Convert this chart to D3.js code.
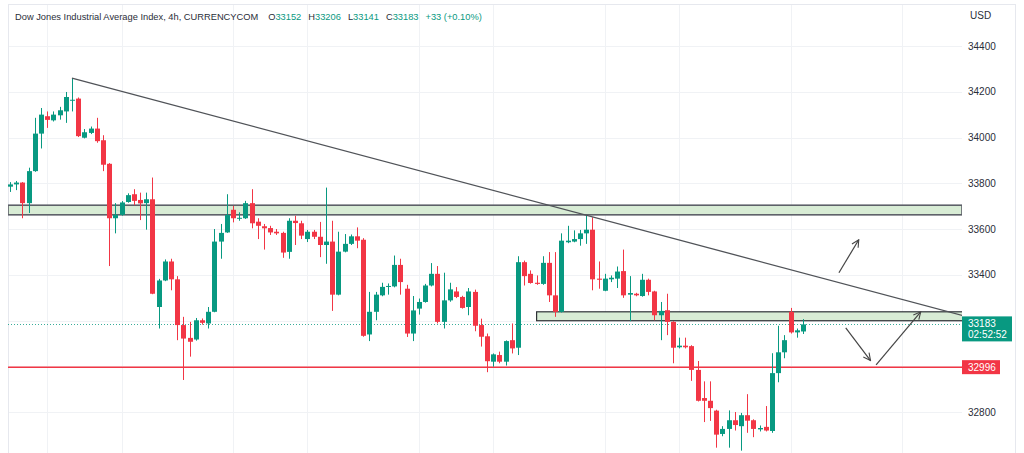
<!DOCTYPE html>
<html>
<head>
<meta charset="utf-8">
<script src="https://cdn.jsdelivr.net/npm/d3@7"></script>
<style>
  body { margin: 0; background: #fff; }
  svg { display: block; font-family: "Liberation Sans", Arial, sans-serif; }
</style>
</head>
<body>
<div id="chart-container"></div>
<script>
// 4h candles (oldest first)
const opens = [33785,33795,33803,33713,33853,34017,34093,34075,34097,34114,34161,34170,33999,34020,34039,33988,33885,33647,33662,33718,
  33752,33727,33713,33730,33259,33375,33458,33380,33180,33124,33117,33201,33187,33238,33545,33585,33684,33646,33647,33713,
  33632,33612,33604,33588,33583,33500,33636,33625,33556,33588,33566,33530,33545,33313,33501,33535,33568,33553,33139,33238,
  33310,33347,33349,33443,33339,33143,33252,33281,33353,33404,33194,33288,33327,33303,33259,33325,33180,33131,33020,33049,
  33020,33114,33081,33455,33404,33365,33360,33452,33310,33238,33542,33545,33556,33581,33597,33383,33330,33380,33383,33416,
  33313,33317,33307,33378,33327,33223,33245,33194,33083,33090,33088,32984,32861,32849,32806,32704,32726,32764,32738,32786,
  32764,32724,32735,32717,32970,33061,33238,33148,33152];
const highs = [33805,33810,33805,33868,34086,34129,34114,34114,34134,34199,34260,34175,34037,34048,34086,34010,33888,33713,33722,33756,
  33774,33759,33759,33825,33382,33467,33470,33394,33216,33194,33211,33209,33259,33600,33622,33752,33701,33673,33723,33774,
  33647,33622,33614,33600,33588,33647,33658,33636,33596,33596,33631,33781,33636,33588,33578,33576,33607,33560,33325,33325,
  33365,33362,33484,33470,33356,33307,33296,33360,33451,33438,33409,33365,33346,33308,33342,33335,33208,33143,33056,33064,
  33113,33187,33481,33462,33419,33397,33481,33499,33499,33581,33614,33594,33596,33661,33651,33458,33404,33397,33436,33510,
  33394,33321,33404,33383,33330,33281,33317,33197,33125,33125,33092,33023,32934,32934,32810,32738,32807,32800,32796,32878,
  32768,32741,32826,33057,33177,33136,33255,33165,33206];
const lows = [33762,33770,33647,33670,33850,33952,34042,34070,34078,34064,34114,34002,33996,34015,33977,33853,33438,33581,33658,33715,
  33704,33639,33597,33315,33165,33372,33332,33114,32940,33042,33112,33182,33165,33236,33470,33583,33629,33636,33644,33603,
  33556,33510,33574,33574,33474,33470,33530,33556,33543,33556,33477,33448,33242,33310,33498,33530,33516,33129,33110,33201,
  33306,33313,33345,33313,33128,33110,33226,33278,33349,33187,33165,33282,33298,33252,33223,33153,33086,32974,32998,33013,
  33003,33056,33049,33353,33361,33356,33356,33281,33216,33235,33538,33542,33527,33535,33332,33339,33328,33368,33342,33299,
  33197,33306,33304,33310,33201,33114,33136,33013,33078,33078,32936,32846,32756,32761,32644,32694,32644,32719,32631,32709,
  32690,32715,32715,32709,32930,33035,33143,33125,33141];
const closes = [33795,33803,33713,33853,34017,34100,34077,34100,34119,34177,34165,34006,34023,34039,33984,33881,33647,33662,33716,33748,
  33723,33712,33730,33317,33375,33458,33380,33180,33121,33107,33201,33190,33238,33545,33583,33661,33647,33649,33713,33625,
  33614,33603,33585,33581,33497,33636,33626,33571,33588,33566,33530,33545,33313,33501,33535,33568,33549,33133,33238,33313,
  33347,33351,33443,33368,33143,33244,33281,33353,33404,33194,33288,33336,33303,33255,33327,33177,33129,33022,33052,33020,
  33110,33078,33455,33394,33364,33360,33452,33310,33238,33549,33549,33556,33581,33597,33380,33378,33383,33387,33414,33310,
  33320,33310,33378,33325,33223,33242,33194,33081,33090,33083,32984,32849,32849,32817,32701,32726,32764,32743,32786,32762,
  32726,32730,32719,32970,33061,33114,33148,33157,33183];

// axis ticks and vertical grid (candle index)
const yTicks = [32800, 33000, 33200, 33400, 33600, 33800, 34000, 34200, 34400];
const gridIdx = [6, 18, 36, 48, 66, 78, 96, 108, 126, 144];

// drawings: [candle index, price]
const upperZone = [33662, 33704];
const lowerZone = [33199, 33238];
const lowerZoneStart = 85;
const supportLevel = 32996;
const lastPrice = 33183;
const countdown = "02:52:52";
const trendLine = [[10, 34260], [153.7, 33222]];
const arrows = [
  [[133.8, 33409], [137.0, 33553]],
  [[134.9, 33168], [138.9, 33025]],
  [[139.8, 33006], [147.0, 33238]]
];

const candles = opens.map((o, i) => ({ i, o, h: highs[i], l: lows[i], c: closes[i] }));

const W = 1024, H = 453;
const plot = { left: 8, right: 962, top: 4, bottom: 453 };
const up = "#089981", down = "#f23645";

const x = d3.scaleLinear().domain([0, candles.length - 1]).range([10, 803]);
const y = d3.scaleLinear().domain([32800, 34400]).range([412, 46]);

const svg = d3.select("#chart-container")
  .append("svg")
    .attr("width", W)
    .attr("height", H);

svg.append("defs").append("clipPath")
    .attr("id", "plotclip")
  .append("rect")
    .attr("x", plot.left)
    .attr("y", plot.top)
    .attr("width", plot.right - plot.left)
    .attr("height", plot.bottom - plot.top);

svg.append("defs").append("marker")
    .attr("id", "arrowhead")
    .attr("viewBox", "0 0 10 10")
    .attr("refX", 9).attr("refY", 5)
    .attr("markerWidth", 9).attr("markerHeight", 9)
    .attr("markerUnits", "userSpaceOnUse")
    .attr("orient", "auto")
  .append("path")
    .attr("d", "M1,1 L9,5 L1,9")
    .attr("fill", "none")
    .attr("stroke", "#444")
    .attr("stroke-width", 1.2);

// frame
svg.append("rect")
  .attr("x", plot.left + 0.5).attr("y", plot.top + 0.5)
  .attr("width", 1015 - plot.left).attr("height", H)
  .attr("fill", "none")
  .attr("stroke", "#e6e8ee");

// grid
const grid = svg.append("g").attr("stroke", "#f0f2f5");
grid.selectAll(".hg").data(yTicks).join("line")
  .attr("x1", plot.left + 1).attr("x2", plot.right)
  .attr("y1", d => Math.round(y(d)) + 0.5).attr("y2", d => Math.round(y(d)) + 0.5);
grid.selectAll(".vg").data(gridIdx).join("line")
  .attr("x1", d => Math.round(x(d)) + 0.5).attr("x2", d => Math.round(x(d)) + 0.5)
  .attr("y1", plot.top + 1).attr("y2", plot.bottom);

const chart = svg.append("g").attr("clip-path", "url(#plotclip)");

// supply / demand zones
chart.append("rect")
  .attr("x", plot.left).attr("width", plot.right - plot.left)
  .attr("y", y(upperZone[1])).attr("height", y(upperZone[0]) - y(upperZone[1]))
  .attr("fill", "#d8ecd5")
  .attr("stroke", "#5d6068")
  .attr("stroke-width", 1.6);

chart.append("rect")
  .attr("x", x(lowerZoneStart)).attr("width", plot.right - x(lowerZoneStart) + 4)
  .attr("y", y(lowerZone[1])).attr("height", y(lowerZone[0]) - y(lowerZone[1]))
  .attr("fill", "#d8ecd5")
  .attr("stroke", "#2e3136")
  .attr("stroke-width", 1.2);

// last price (dotted) and support line
chart.append("line")
  .attr("x1", plot.left).attr("x2", plot.right)
  .attr("y1", Math.round(y(lastPrice)) + 0.5).attr("y2", Math.round(y(lastPrice)) + 0.5)
  .attr("stroke", up)
  .attr("stroke-opacity", 0.8)
  .attr("stroke-dasharray", "1,2");

chart.append("line")
  .attr("x1", plot.left).attr("x2", plot.right)
  .attr("y1", y(supportLevel)).attr("y2", y(supportLevel))
  .attr("stroke", down)
  .attr("stroke-width", 1.5);

// candles
const cg = chart.append("g");
cg.selectAll(".wick").data(candles).join("line")
  .attr("x1", d => Math.round(x(d.i)) + 0.5).attr("x2", d => Math.round(x(d.i)) + 0.5)
  .attr("y1", d => y(d.h)).attr("y2", d => y(d.l))
  .attr("stroke", d => d.c >= d.o ? up : down);

cg.selectAll(".body").data(candles).join("rect")
  .attr("x", d => Math.round(x(d.i)) - 2)
  .attr("width", 5)
  .attr("y", d => y(Math.max(d.o, d.c)))
  .attr("height", d => Math.max(1, Math.abs(y(d.o) - y(d.c))))
  .attr("fill", d => d.c >= d.o ? up : down);

// trend line
chart.append("line")
  .attr("x1", x(trendLine[0][0])).attr("y1", y(trendLine[0][1]))
  .attr("x2", x(trendLine[1][0])).attr("y2", y(trendLine[1][1]))
  .attr("stroke", "#505358")
  .attr("stroke-width", 1.3);

// scenario arrows
chart.selectAll(".arrow").data(arrows).join("line")
  .attr("x1", d => x(d[0][0])).attr("y1", d => y(d[0][1]))
  .attr("x2", d => x(d[1][0])).attr("y2", d => y(d[1][1]))
  .attr("stroke", "#444")
  .attr("stroke-width", 1.2)
  .attr("marker-end", "url(#arrowhead)");

// price axis (ticks hidden behind the price labels are dropped)
const shownTicks = yTicks.filter(t =>
  Math.abs(y(t) - (y(lastPrice) + 4)) > 18 && Math.abs(y(t) - y(supportLevel)) > 12);
const axis = svg.append("g")
  .attr("transform", `translate(${plot.right}, 0)`)
  .call(d3.axisRight(y).tickValues(shownTicks).tickSize(0).tickPadding(6).tickFormat(d3.format("d")));
axis.select(".domain").remove();
axis.selectAll("text")
  .style("font-size", "10px")
  .style("font-family", "'Liberation Sans', Arial, sans-serif")
  .attr("fill", "#2a2e39");

svg.append("text")
  .attr("x", 970).attr("y", 19)
  .style("font-size", "10px")
  .attr("fill", "#2a2e39")
  .text("USD");

// price labels
const lp = y(lastPrice);
svg.append("rect")
  .attr("x", plot.right).attr("y", lp - 8)
  .attr("width", 50).attr("height", 25)
  .attr("fill", up);
svg.append("text")
  .attr("x", plot.right + 6).attr("y", lp + 3)
  .style("font-size", "10px").attr("fill", "#fff")
  .text(lastPrice);
svg.append("text")
  .attr("x", plot.right + 6).attr("y", lp + 14)
  .style("font-size", "10px").attr("fill", "#fff")
  .text(countdown);

const sp = y(supportLevel);
svg.append("rect")
  .attr("x", plot.right).attr("y", sp - 7)
  .attr("width", 38).attr("height", 14)
  .attr("fill", down);
svg.append("text")
  .attr("x", plot.right + 6).attr("y", sp + 3.5)
  .style("font-size", "10px").attr("fill", "#fff")
  .text(supportLevel);

// legend line
const last = candles[candles.length - 1];
const title = svg.append("text")
  .attr("x", 15).attr("y", 20)
  .style("font-size", "9.3px")
  .attr("fill", "#2a2e39");
title.append("tspan").text("Dow Jones Industrial Average Index, 4h, CURRENCYCOM");
[["O", last.o], ["H", last.h], ["L", last.l], ["C", last.c]].forEach(([k, v], j) => {
  title.append("tspan").attr("dx", j === 0 ? 10 : 7).text(k);
  title.append("tspan").attr("fill", up).text(v);
});
title.append("tspan").attr("dx", 7).attr("fill", up).text("+33 (+0.10%)");
</script>
</body>
</html>
